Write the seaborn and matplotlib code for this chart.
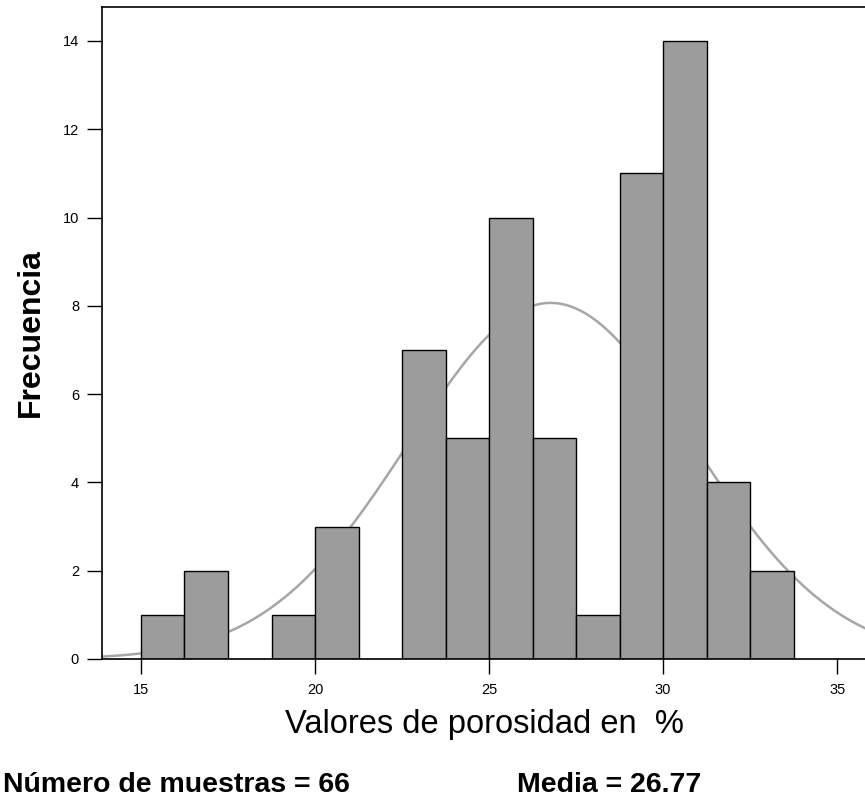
import numpy as np
import pandas as pd
import matplotlib
matplotlib.use("Agg")
import matplotlib.pyplot as plt
import seaborn as sns

# ---- data ----
bin_edges = [15.0, 16.25, 17.5, 18.75, 20.0, 21.25, 22.5, 23.75, 25.0,
             26.25, 27.5, 28.75, 30.0, 31.25, 32.5, 33.75]
counts = [1, 2, 0, 1, 3, 0, 7, 5, 10, 5, 1, 11, 14, 4, 2]
x_ticks = [15, 20, 25, 30, 35]
y_ticks = [0, 2, 4, 6, 8, 10, 12, 14]
n_samples = 66
mean_value = 26.77
std_value = 4.08

sns.set_theme(style="white", rc={
    "text.color": "black", "axes.labelcolor": "black",
    "xtick.color": "black", "ytick.color": "black",
    "axes.edgecolor": "black",
})
plt.rcParams['font.family'] = ['Liberation Sans', 'DejaVu Sans']

edges = np.array(bin_edges)
centers = (edges[:-1] + edges[1:]) / 2
df = pd.DataFrame({"valor": centers, "frecuencia": counts})

fig = plt.figure(figsize=(8.65, 7.99), dpi=100)
ax = fig.add_axes([102 / 865, 1 - 659 / 799, 1 - 102 / 865, (659 - 7) / 799])

# fitted normal curve (drawn under bars)
bw = edges[1] - edges[0]
xs = np.linspace(13.0, 37.0, 400)
ys = n_samples * bw / (std_value * np.sqrt(2 * np.pi)) * np.exp(-0.5 * ((xs - mean_value) / std_value) ** 2)
sns.lineplot(x=xs, y=ys, ax=ax, color="#a6a6a6", linewidth=1.8, zorder=1)

sns.histplot(data=df, x="valor", weights="frecuencia", bins=bin_edges, ax=ax,
             color="#9c9c9c", alpha=1.0, edgecolor="black", linewidth=1.0, zorder=2)

ax.set_xlim(13.88, 35.8)
ax.set_ylim(0, 14.77)
ax.set_xticks(x_ticks)
ax.set_yticks(y_ticks)
ax.set_xticklabels([str(t) for t in x_ticks], fontsize=10.5)
ax.set_yticklabels([str(t) for t in y_ticks], fontsize=10.5)
ax.tick_params(axis="both", direction="out", length=10.5, width=1, color="black",
               left=True, bottom=True)
ax.tick_params(axis="x", pad=7)
ax.tick_params(axis="y", pad=6)

for side in ["left", "top", "bottom"]:
    ax.spines[side].set_visible(True)
    ax.spines[side].set_color("black")
    ax.spines[side].set_linewidth(1.2)
ax.spines["right"].set_visible(False)

ax.set_xlabel("Valores de porosidad en  %", fontsize=23.5)
ax.xaxis.set_label_coords(0.501, (659 - 725) / 652)
ax.xaxis.label.set_va("center")
ax.set_ylabel("Frecuencia", fontsize=23, fontweight="bold")
ax.yaxis.set_label_coords((31 - 102) / 763, 0.5)
ax.yaxis.label.set_va("center")

fig.text(3 / 865, 1 - 792 / 799, "Número de muestras = 66", fontsize=20.5,
         fontweight="bold", ha="left", va="baseline")
fig.text(517 / 865, 1 - 792 / 799, "Media = 26.77", fontsize=20.5,
         fontweight="bold", ha="left", va="baseline")

fig.savefig("out.png", dpi=100)
